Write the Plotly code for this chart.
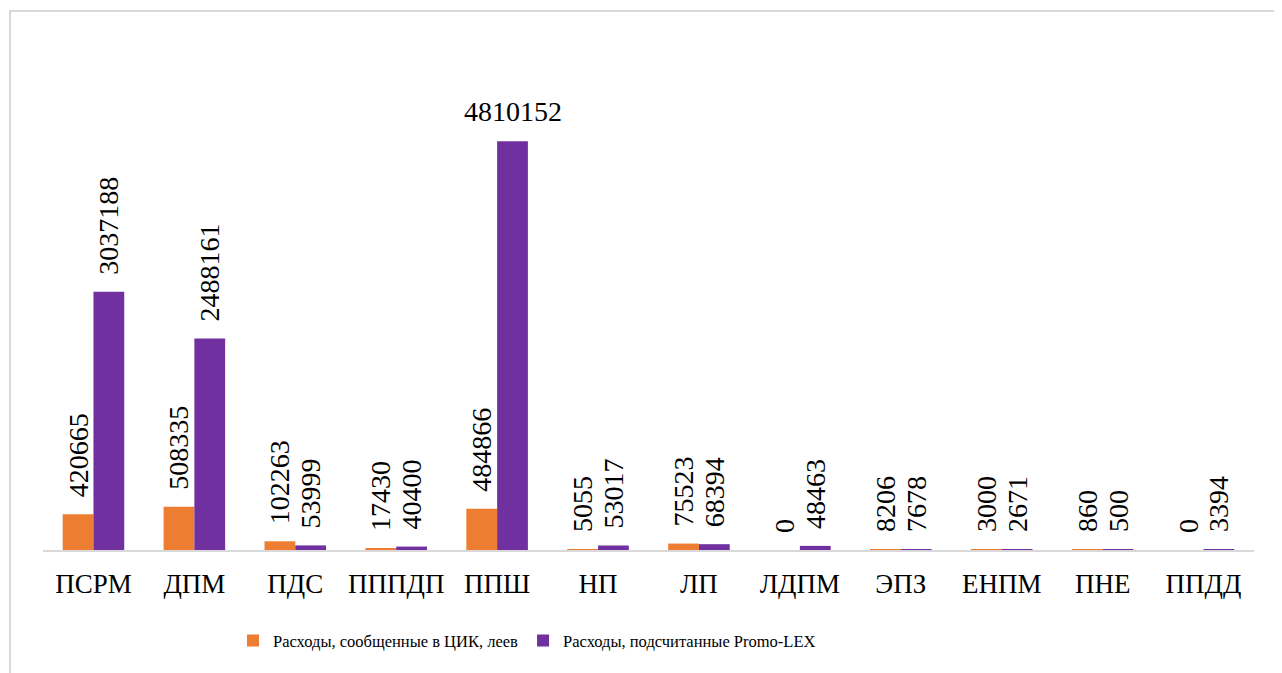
import plotly.graph_objects as go

categories = ["ПСРМ", "ДПМ", "ПДС", "ПППДП", "ППШ", "НП", "ЛП", "ЛДПМ", "ЭПЗ", "ЕНПМ", "ПНЕ", "ППДД"]
reported_cec = [420665, 508335, 102263, 17430, 484866, 5055, 75523, 0, 8206, 3000, 860, 0]
counted_promolex = [3037188, 2488161, 53999, 40400, 4810152, 53017, 68394, 48463, 7678, 2671, 500, 3394]
series_names = ["Расходы, сообщенные в ЦИК, леев", "Расходы, подсчитанные Promo-LEX"]
colors = ["#ED7D31", "#7030A0"]

W, H = 1282, 673
ml, mr, mt, mb = 35, 36, 32, 131
bargap = 0.39
y_max = 6000000
pad = "\u00a0\u00a0"

max_val = max(counted_promolex)
purple_text = [("" if v == max_val else pad + str(v)) for v in counted_promolex]
orange_text = [pad + str(v) for v in reported_cec]

fig = go.Figure()
fig.add_trace(go.Bar(
    x=categories, y=reported_cec, name=series_names[0],
    marker=dict(color=colors[0], line=dict(width=0)),
    text=orange_text, textposition="outside", textangle=-90,
    constraintext="none", cliponaxis=False,
    textfont=dict(family="Liberation Serif", size=28, color="#000000"),
))
fig.add_trace(go.Bar(
    x=categories, y=counted_promolex, name=series_names[1],
    marker=dict(color=colors[1], line=dict(width=0)),
    text=purple_text, textposition="outside", textangle=-90,
    constraintext="none", cliponaxis=False,
    textfont=dict(family="Liberation Serif", size=28, color="#000000"),
))

plot_w = W - ml - mr
plot_h = H - mt - mb
cat_w = plot_w / len(categories)
bar_w = cat_w * (1 - bargap) / 2
imax = counted_promolex.index(max_val)
fig.add_annotation(
    x=categories[imax], y=max_val, xref="x", yref="y",
    text=str(max_val), showarrow=False, xanchor="center", yanchor="bottom",
    xshift=bar_w / 2, yshift=12,
    font=dict(family="Liberation Serif", size=28, color="#000000"),
)

# outer chart frame (page offset of 8px accounted for)
fx0, fy0 = 2, 3
fig.add_shape(
    type="rect", xref="paper", yref="paper",
    x0=(fx0 - ml) / plot_w, x1=(W + 40 - ml) / plot_w,
    y0=-(H + 40 - mt - plot_h) / plot_h, y1=(plot_h + mt - fy0) / plot_h,
    line=dict(color="#d9d9d9", width=2), fillcolor="rgba(0,0,0,0)", layer="below",
)

fig.update_layout(
    width=W, height=H,
    margin=dict(l=ml, r=mr, t=mt, b=mb),
    paper_bgcolor="white", plot_bgcolor="white",
    barmode="group", bargap=bargap, bargroupgap=0,
    showlegend=True,
    legend=dict(
        orientation="h", x=(225 - ml) / plot_w, xanchor="left", y=-0.178, yanchor="middle",
        font=dict(family="Liberation Serif", size=16.5, color="#000000"),
        itemwidth=30, traceorder="normal",
    ),
    xaxis=dict(
        showline=True, linecolor="#d9d9d9", linewidth=2, showgrid=False,
        ticks="", tickfont=dict(family="Liberation Serif", size=27, color="#000000"),
        ticklabelstandoff=9,
    ),
    yaxis=dict(
        range=[0, y_max], visible=False, showgrid=False, zeroline=False,
    ),
)

fig.write_html("out.html")
